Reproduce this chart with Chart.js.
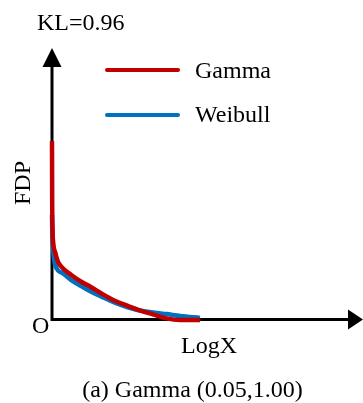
<!DOCTYPE html>
<html>
<head>
<meta charset="utf-8">
<script src="https://cdn.jsdelivr.net/npm/chart.js@4.4.0/dist/chart.umd.min.js"></script>
<style>
  body { margin: 0; background: #fff; }
  #wrap { position: relative; width: 363px; height: 403px; }
  .lbl { position: absolute; font-family: "Liberation Serif", "Times New Roman", serif; font-size: 24px; line-height: 24px; height: 24px; white-space: nowrap; color: #000; }
</style>
</head>
<body>
<div id="wrap">
  <canvas id="pdfChart" width="363" height="403"></canvas>
  <div class="lbl" style="left:37px;top:10px;">KL=0.96</div>
  <div class="lbl" style="left:195px;top:58px;">Gamma</div>
  <div class="lbl" style="left:195px;top:102px;">Weibull</div>
  <div class="lbl" style="left:0px;top:171px;width:44px;text-align:center;transform:rotate(-90deg);">FDP</div>
  <div class="lbl" style="left:32px;top:313px;">O</div>
  <div class="lbl" style="left:181px;top:333px;">LogX</div>
  <div class="lbl" style="left:0px;top:377px;width:385px;text-align:center;">(a) Gamma (0.05,1.00)</div>
</div>
<script>
var seriesNames = ["Gamma", "Weibull"];
var seriesColors = ["#C00000", "#0070C0"];

// x and y in plot units (0..10)
var gammaX = [0, 0.006, 0.02, 0.03, 0.11, 0.19, 0.35, 0.62, 0.94, 1.26, 1.59, 2.02, 2.44, 2.87, 3.30, 3.68, 4.12, 4.76];
var gammaY = [6.57, 4.40, 3.19, 2.93, 2.44, 2.13, 1.89, 1.64, 1.39, 1.19, 0.96, 0.69, 0.50, 0.32, 0.17, 0.04, -0.02, -0.02];
var weibullX = [0, 0.005, 0.03, 0.09, 0.35, 0.62, 0.94, 1.26, 1.59, 2.02, 2.44, 2.87, 3.30, 3.68, 4.12, 4.76];
var weibullY = [3.85, 3.48, 2.74, 2.07, 1.70, 1.45, 1.23, 1.02, 0.84, 0.62, 0.45, 0.32, 0.25, 0.20, 0.13, 0.06];

var toPoints = function (xs, ys) {
  return xs.map(function (x, i) { return { x: x, y: ys[i] }; });
};

// axes with arrow heads + legend strokes
var axesPlugin = {
  id: 'arrowAxes',
  beforeDatasetsDraw: function (chart) {
    var ctx = chart.ctx;
    var x0 = chart.scales.x.getPixelForValue(0);
    var y0 = chart.scales.y.getPixelForValue(0);
    var top = chart.chartArea.top;
    var right = chart.chartArea.right;
    ctx.save();
    ctx.strokeStyle = '#000';
    ctx.fillStyle = '#000';
    ctx.lineWidth = 3;
    ctx.beginPath();
    ctx.moveTo(x0, y0 + 1.5);
    ctx.lineTo(x0, top + 12);
    ctx.moveTo(x0 - 1.5, y0);
    ctx.lineTo(right - 10, y0);
    ctx.stroke();
    ctx.beginPath();
    ctx.moveTo(x0, top);
    ctx.lineTo(x0 - 9.5, top + 19);
    ctx.lineTo(x0 + 9.5, top + 19);
    ctx.closePath();
    ctx.fill();
    ctx.beginPath();
    ctx.moveTo(right, y0);
    ctx.lineTo(right - 15, y0 - 10);
    ctx.lineTo(right - 15, y0 + 10);
    ctx.closePath();
    ctx.fill();

    ctx.lineWidth = 4;
    ctx.lineCap = 'round';
    [70, 115].forEach(function (yy, i) {
      ctx.strokeStyle = seriesColors[i];
      ctx.beginPath();
      ctx.moveTo(107, yy);
      ctx.lineTo(178, yy);
      ctx.stroke();
    });
    ctx.restore();
  }
};

var pdfChart = new Chart(document.getElementById('pdfChart'), {
  type: 'line',
  data: {
    datasets: [{
      label: seriesNames[0],
      data: toPoints(gammaX, gammaY),
      borderColor: seriesColors[0],
      borderWidth: 4.5,
      pointRadius: 0,
      cubicInterpolationMode: 'monotone',
      clip: false
    }, {
      label: seriesNames[1],
      data: toPoints(weibullX, weibullY),
      borderColor: seriesColors[1],
      borderWidth: 4.5,
      pointRadius: 0,
      cubicInterpolationMode: 'monotone',
      clip: false
    }]
  },
  options: {
    responsive: false,
    animation: false,
    devicePixelRatio: 1,
    layout: {
      padding: { left: 52, right: 0, top: 48, bottom: 83.5 }
    },
    plugins: {
      legend: { display: false },
      tooltip: { enabled: false }
    },
    scales: {
      x: { type: 'linear', min: 0, max: 10, display: false },
      y: { type: 'linear', min: 0, max: 10, display: false }
    }
  },
  plugins: [axesPlugin]
});
</script>
</body>
</html>
